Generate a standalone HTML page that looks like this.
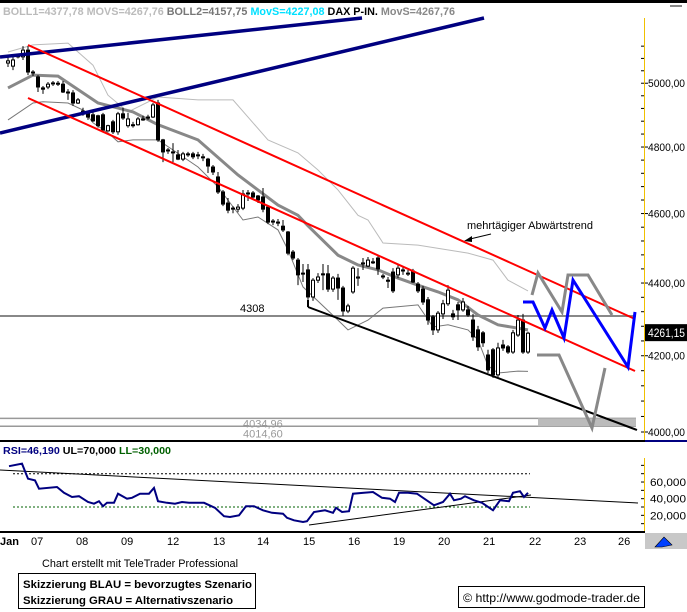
<!DOCTYPE html>
<html><head><meta charset="utf-8"><style>
html,body{margin:0;padding:0;background:#fff;}
svg{display:block;font-family:"Liberation Sans",Arial,sans-serif;}
</style></head><body>
<svg id="chart" width="687" height="612" viewBox="0 0 687 612" xmlns="http://www.w3.org/2000/svg">
<rect x="0" y="0" width="687" height="612" fill="#fff"/>
<rect x="0" y="0" width="687" height="3" fill="#000"/>
<text x="3" y="15" font-size="11" font-weight="bold" textLength="452" lengthAdjust="spacingAndGlyphs"><tspan fill="#bbb">BOLL1=4377,78 MOVS=4267,76 </tspan><tspan fill="#777">BOLL2=4157,75 </tspan><tspan fill="#00e0ff">MovS=4227,08 </tspan><tspan fill="#000">DAX P-IN. </tspan><tspan fill="#888">MovS=4267,76</tspan></text>
<rect x="670" y="5" width="12" height="2" fill="#888"/>
<g id="main"></g>
<g id="axis"></g>
<g id="rsi"></g>
<text x="42" y="567" font-size="11" textLength="196" lengthAdjust="spacingAndGlyphs">Chart erstellt mit TeleTrader Professional</text>
<rect x="18.5" y="573.5" width="237" height="35" fill="#fff" stroke="#000"/>
<text x="23" y="588" font-size="11" font-weight="bold" textLength="229" lengthAdjust="spacingAndGlyphs">Skizzierung BLAU = bevorzugtes Szenario</text>
<text x="23" y="604" font-size="11" font-weight="bold" textLength="210" lengthAdjust="spacingAndGlyphs">Skizzierung GRAU = Alternativszenario</text>
<rect x="458.5" y="586.5" width="186" height="21" fill="#fff" stroke="#000"/>
<text x="463" y="602" font-size="12" textLength="177" lengthAdjust="spacingAndGlyphs">© http://www.godmode-trader.de</text>
</svg>
<script>
const opens=[5065,5055,5085,5085,5107,5036,5020,4985,4988,5000,5000,4997,4972,4969,4937,4912,4906,4900,4897,4900,4850,4878,4847,4903,4866,4869,4869,4887,4890,4893,4937,4822,4791,4785,4776,4763,4776,4779,4776,4770,4763,4739,4709,4664,4631,4616,4613,4616,4661,4661,4652,4649,4619,4578,4575,4563,4546,4488,4465,4428,4437,4361,4408,4426,4426,4383,4414,4386,4322,4375,4414,4454,4448,4460,4471,4420,4408,4431,4423,4437,4428,4434,4397,4383,4353,4306,4270,4314,4342,4314,4339,4325,4325,4297,4270,4262,4202,4216,4149,4229,4224,4210,4256,4297,4210];
const highs=[5085,5085,5095,5120,5120,5042,5026,4991,5004,5007,5007,5007,4981,4978,4953,4922,4912,4909,4900,4906,4869,4884,4909,4922,4906,4878,4893,4897,4900,4937,4947,4825,4797,4812,4791,4785,4785,4785,4785,4779,4767,4745,4724,4670,4646,4622,4628,4670,4670,4667,4655,4676,4622,4584,4584,4581,4549,4494,4471,4454,4454,4414,4428,4454,4451,4420,4426,4392,4342,4448,4442,4471,4474,4471,4477,4426,4417,4442,4451,4445,4437,4440,4403,4392,4361,4311,4322,4353,4394,4325,4347,4358,4336,4314,4281,4267,4216,4221,4235,4243,4229,4270,4311,4314,4265];
const lows=[5052,5042,5080,5075,5026,5023,4972,4966,4981,4991,4991,4969,4947,4928,4934,4897,4884,4878,4860,4847,4847,4840,4838,4884,4860,4860,4866,4881,4884,4890,4816,4754,4779,4754,4760,4757,4770,4763,4763,4757,4721,4715,4658,4622,4601,4601,4604,4610,4637,4643,4631,4604,4569,4566,4563,4546,4479,4465,4394,4403,4353,4350,4400,4380,4375,4375,4353,4308,4316,4370,4392,4437,4445,4454,4423,4411,4386,4372,4414,4423,4420,4400,4372,4339,4284,4256,4262,4300,4336,4297,4297,4320,4306,4240,4213,4224,4154,4141,4141,4213,4205,4205,4251,4205,4205];
const closes=[5072,5075,5091,5107,5036,5033,4988,4981,4997,5001,4999,4972,4969,4937,4947,4906,4893,4881,4866,4853,4866,4847,4903,4890,4887,4866,4887,4884,4893,4931,4822,4785,4788,4782,4763,4779,4779,4770,4773,4767,4742,4724,4664,4628,4610,4613,4619,4658,4658,4649,4640,4613,4575,4575,4572,4552,4485,4471,4423,4428,4361,4408,4417,4423,4383,4414,4386,4322,4336,4442,4417,4457,4465,4460,4440,4417,4405,4378,4442,4434,4426,4403,4378,4347,4297,4270,4316,4342,4380,4306,4325,4347,4311,4251,4224,4235,4162,4149,4221,4221,4210,4262,4297,4210,4261];
const maBars=[0,5,10,18,25,30,38,46,54,58,60,66,70,74,78,82,86,90,94,98,104];
const maVals=[4985,5026,5023,4937,4909,4869,4822,4715,4625,4595,4564,4479,4451,4437,4414,4394,4375,4353,4311,4284,4270];
const upBars=[0,5,12,17,20,24,30,38,45,49,52,58,62,66,70,72,75,82,92,97,100,104];
const upVals=[5101,5124,5130,5058,4962,4909,4956,4947,4947,4875,4822,4782,4730,4670,4595,4581,4514,4508,4485,4465,4408,4378];
const loBars=[0,5,7,12,15,17,20,22,25,30,33,38,42,47,50,54,56,59,66,68,72,75,82,85,88,92,94,96,98,102,104];
const loVals=[4884,4937,4941,4937,4915,4875,4844,4816,4822,4822,4791,4739,4679,4581,4590,4552,4494,4389,4297,4270,4297,4330,4339,4278,4284,4270,4243,4173,4154,4159,4158];
const priceTicks=[5000,4800,4600,4400,4200,4000];
const priceTickLabels=["5000,00","4800,00","4600,00","4400,00","4200,00","4000,00"];
const lastPrice=4261.15;
const refLevels=[4308,4034.96,4014.60];
const dateLabels=["Jan","07","08","09","12","13","14","15","16","19","20","21","22","23","26"];
const dateBars=[0,5.8,14.8,23.8,33,42.2,51,60.2,69.2,78.2,87.2,96.2,105.4,114.4,123.2];
const rsiBars=[0.2,2.8,4,5.4,6.2,9.8,11.2,12.8,14.2,16,17.2,18.2,19,19.8,21.2,22,23.8,24.8,26.4,28.2,29.2,30,31.8,33.4,34.8,36.2,39.2,41.4,43.2,44.4,46.2,47.6,49.2,51,52.8,55,55.8,57.2,59,59.8,61.2,63.4,65,65.6,66.8,68.2,69,71.2,73,74.8,76.4,77.4,78.2,80,81.8,85.2,87,88.4,89.2,90.6,91.4,93.2,94.8,97,98.4,100.2,101,102.4,103.2,104];
const rsiVals=[79,82,64,62,52,54,47,42,43,36,34,37,31,35,35,46,40,41,46,46,53,37,35,34,36,35,35,29,19,18,20,31,31,26,23,22,17,14,12,13,24,26,23,29,24,25,46,47,48,41,40,36,47,47,46,32,36,46,38,40,43,38,35,26,38,37,47,49,42,47];
const rsiTicks=[60,40,20];
const rsiTickLabels=["60,000","40,000","20,000"];
const rsiLevels=[70,30];

const NS="http://www.w3.org/2000/svg";
function xS(i){return 8+5*i;}
function yS(p){return 432-1563*Math.log(p/4000);}
function rY(v){return 532-0.833*v;}
function mk(tag,attrs,parent){const e=document.createElementNS(NS,tag);for(const k in attrs)e.setAttribute(k,attrs[k]);parent.appendChild(e);return e;}
const main=document.getElementById('main'),axis=document.getElementById('axis'),rsi=document.getElementById('rsi');

// reference horizontal lines
refLevels.forEach((lv,k)=>{
  const l=mk('line',{x1:0,x2:636,y1:yS(lv),y2:yS(lv),stroke:k==0?'#888':'#999','stroke-width':k==0?2:1.5},main);
  
  
});
const gb=mk('rect',{x:538,y:yS(refLevels[1]),width:98,height:yS(refLevels[2])-yS(refLevels[1]),fill:'#bbb'},main);


const t1=mk('text',{x:240,y:yS(refLevels[0])-4,'font-size':11},main);t1.textContent='4308';


const t2=mk('text',{x:243,y:yS(refLevels[1])+9,'font-size':11,fill:'#999'},main);t2.textContent='4034,96';


const t3=mk('text',{x:243,y:yS(refLevels[2])+11,'font-size':11,fill:'#999'},main);t3.textContent='4014,60';



function poly(bars,vals,style,name,parent,yf){
  const pts=bars.map((b,i)=>xS(b).toFixed(1)+','+(yf||yS)(vals[i]).toFixed(1)).join(' ');
  const p=mk('polyline',Object.assign({points:pts,fill:'none'},style),parent);
  
  
}
poly(upBars,upVals,{stroke:'#bbb','stroke-width':1},'bollinger-upper',main);
poly(loBars,loVals,{stroke:'#777','stroke-width':1},'bollinger-lower',main);
poly(maBars,maVals,{stroke:'#888','stroke-width':3},'moving-average',main);

// candles
for(let i=0;i<opens.length;i++){
  const x=xS(i);
  const w=mk('line',{x1:x,x2:x,y1:yS(highs[i]),y2:yS(lows[i]),stroke:'#000','stroke-width':1},main);
  
  
  const up=closes[i]>=opens[i];
  const top=yS(Math.max(opens[i],closes[i])),bot=yS(Math.min(opens[i],closes[i]));
  const b=mk('rect',{x:x-1.5,y:top,width:3,height:Math.max(1,bot-top),fill:up?'#fff':'#000',stroke:'#000','stroke-width':1},main);
  
  
}

// drawn trendlines (annotations)
function ln(x1,y1,x2,y2,col,w,name){const l=mk('line',{x1,y1,x2,y2,stroke:col,'stroke-width':w},main);
  
  }
ln(0,57,362,18,'#000080',3.5,'channel-line-upper-blue');
ln(0,133,484,18,'#000080',3.5,'channel-line-lower-blue');
ln(28,45,635,319,'#ff0000',2,'downtrend-upper-red');
ln(28,98,635,371,'#ff0000',2,'downtrend-lower-red');
ln(308,307,637,430,'#000',2,'support-trendline');
ln(308,300,308,307,'#000',2,'support-trendline-tick');
function pl(pts,col,w,name){const p=mk('polyline',{points:pts,fill:'none',stroke:col,'stroke-width':w,'stroke-linejoin':'miter'},main);
  
  }
pl('532,295 538,273 562,312 568,275 588,275 612,315','#888',3,'gray-scenario-upper');
pl('537,355 559,355 592,428 605,368','#888',3,'gray-scenario-lower');
pl('523,302 533,302 545,328 552,310 564,338 573,280 628,367 635,312','#0000ff',3,'blue-scenario');
const at=mk('text',{x:467,y:229,'font-size':11},main);at.textContent='mehrtägiger Abwärtstrend';


ln(491,234,470,239,'#000',1,'annotation-arrow');
const ah=mk('polygon',{points:'464,241 472,236 472,242',fill:'#000'},main);



// main bottom separator
const sep=mk('rect',{x:0,y:440,width:645,height:2,fill:'#000'},axis);


const sep2=mk('rect',{x:645,y:440,width:42,height:2,fill:'#000080'},axis);



// price axis
const ax=mk('line',{x1:644.5,x2:644.5,y1:18,y2:440,stroke:'#f0c000','stroke-width':1},axis);


for(let p=4000;p<=5150;p+=40){
  const t=mk('line',{x1:641,x2:644,y1:yS(p),y2:yS(p),stroke:'#000'},axis);
  
  
}
priceTicks.forEach((p,k)=>{
  const t=mk('line',{x1:645,x2:648,y1:yS(p),y2:yS(p),stroke:'#000'},axis);
  
  
  const tx=mk('text',{x:648,y:yS(p)+4,'font-size':11,textLength:37,lengthAdjust:'spacingAndGlyphs'},axis);
  tx.textContent=priceTickLabels[k];
  
  
});
const lb=mk('rect',{x:645,y:yS(lastPrice)-9,width:42,height:17,fill:'#000'},axis);


const lt=mk('text',{x:648,y:yS(lastPrice)+4,'font-size':12,fill:'#fff',textLength:37,lengthAdjust:'spacingAndGlyphs'},axis);
lt.textContent=lastPrice.toFixed(2).replace('.',',');



// RSI panel
const rh=mk('text',{x:3,y:454,'font-size':10.5,'font-weight':'bold',textLength:168,lengthAdjust:'spacingAndGlyphs'},rsi);
rh.innerHTML='<tspan fill="#000080">RSI=46,190 </tspan><tspan fill="#000">UL=70,000 </tspan><tspan fill="#006000">LL=30,000</tspan>';


rsiLevels.forEach((lv,k)=>{
  const l=mk('line',{x1:13,x2:530,y1:rY(lv),y2:rY(lv),stroke:k==0?'#000':'#006000','stroke-dasharray':'2,2'},rsi);
  
  
});
const tl1=mk('line',{x1:0,y1:470,x2:638,y2:503,stroke:'#000'},rsi);


const tl2=mk('line',{x1:309,y1:525,x2:531,y2:495,stroke:'#000'},rsi);


poly(rsiBars,rsiVals,{stroke:'#000080','stroke-width':2},'rsi-line',rsi,rY);
const rax=mk('line',{x1:644.5,x2:644.5,y1:458,y2:532,stroke:'#f0c000'},rsi);


for(let v=0;v<=85;v+=10){
  const t=mk('line',{x1:641,x2:644,y1:rY(v),y2:rY(v),stroke:'#000'},rsi);
  
  
}
rsiTicks.forEach((v,k)=>{
  const tx=mk('text',{x:650,y:rY(v)+4,'font-size':11,textLength:36,lengthAdjust:'spacingAndGlyphs'},rsi);
  tx.textContent=rsiTickLabels[k];
  
  
});
const rb=mk('rect',{x:0,y:531,width:645,height:2,fill:'#000'},rsi);



// date axis
dateLabels.forEach((d,k)=>{
  const tx=mk('text',{x:xS(dateBars[k])-(k==0?8:6),y:545,'font-size':11,'font-weight':k==0?'bold':'normal'},axis);
  tx.textContent=d;
  
  
});
const nb=mk('rect',{x:645,y:533,width:42,height:16,fill:'#c8c8c8'},axis);


const ni=mk('polygon',{points:'655,547 664,537 668,541 672,545 662,547',fill:'#0040ff',stroke:'#000','stroke-width':0.6},axis);


</script>
</body></html>
